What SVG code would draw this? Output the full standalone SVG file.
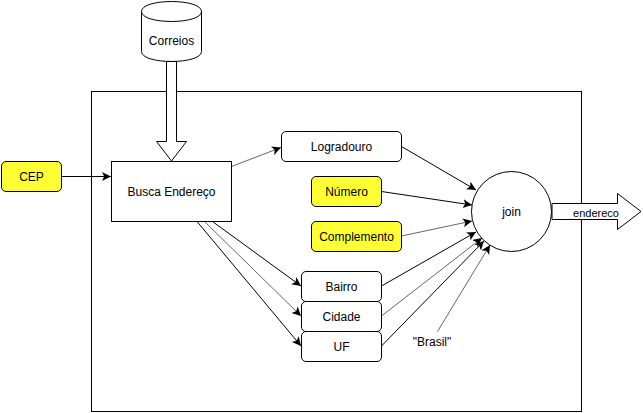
<svg xmlns="http://www.w3.org/2000/svg" width="643" height="413" viewBox="0 0 643 413">
<style>
.n{fill:#fff;stroke:#000;stroke-width:1}
.y{fill:#ffff33;stroke:#000;stroke-width:1}
.c{fill:none;stroke:#000;stroke-width:1}
.g{fill:none;stroke:#666;stroke-width:1}
text{font-family:"Liberation Sans",Arial,sans-serif;font-size:12px;fill:#000;text-anchor:middle}
</style>
<defs>
<marker id="a" markerUnits="userSpaceOnUse" markerWidth="12" markerHeight="10" refX="9" refY="4.5" orient="auto"><path d="M0 0L9 4.5L0 9L2.2 4.5Z" fill="#000"/></marker>
</defs>
<rect id="frame" x="91.5" y="91.5" width="490" height="320" fill="#fff" stroke="#000"/>
<g id="correios">
<path class="n" d="M141.500 11.500C141.500 -1.800 201.500 -1.800 201.500 11.500V51.500C201.500 64.800 141.500 64.800 141.500 51.500Z"/>
<path class="c" d="M141.500 11.500C141.500 24.800 201.500 24.800 201.500 11.500"/>
<text x="171.500" y="45">Correios</text>
</g>
<g id="connectors">
<path class="n" d="M166.500 61.500H176.500V141.500H186.500L171.500 161L156.500 141.500H166.500Z"/>
<path class="c" marker-end="url(#a)" d="M61.500 176.500H111"/>
<path class="g" marker-end="url(#a)" d="M231.500 166.500L281 147.500"/>
<path class="c" marker-end="url(#a)" d="M401.500 146.500L476 190"/>
<path class="c" marker-end="url(#a)" d="M381.500 191.500L472 205"/>
<path class="g" marker-end="url(#a)" d="M401.500 236L472 221"/>
<path class="c" marker-end="url(#a)" d="M212.500 221.500L301 286"/>
<path class="g" marker-end="url(#a)" d="M204.500 221.500L301 316"/>
<path class="c" marker-end="url(#a)" d="M197 221.500L301 346"/>
<path class="c" marker-end="url(#a)" d="M381.500 286L476 232"/>
<path class="g" marker-end="url(#a)" d="M381.500 316L482 238"/>
<path class="c" marker-end="url(#a)" d="M381.500 346L484 241"/>
<path class="g" marker-end="url(#a)" d="M437.500 331.500L490 245"/>
</g>
<g id="cep"><rect class="y" x="1.500" y="161.500" width="60" height="30" rx="4.500"/><text x="31.500" y="181">CEP</text></g>
<g id="busca"><rect class="n" x="111.500" y="161.500" width="120" height="60"/><text x="171.500" y="196">Busca Endereço</text></g>
<g id="logradouro"><rect class="n" x="281.500" y="131.500" width="120" height="30" rx="4.500"/><text x="341.500" y="151">Logradouro</text></g>
<g id="numero"><rect class="y" x="311.500" y="176.500" width="70" height="30" rx="4.500"/><text x="346.500" y="196">Número</text></g>
<g id="complemento"><rect class="y" x="311.500" y="221.500" width="90" height="30" rx="4.500"/><text x="356.500" y="241">Complemento</text></g>
<g id="bairro"><rect class="n" x="301.500" y="271.500" width="80" height="30" rx="4.500"/><text x="341.500" y="291">Bairro</text></g>
<g id="cidade"><rect class="n" x="301.500" y="301.500" width="80" height="30" rx="4.500"/><text x="341.500" y="321">Cidade</text></g>
<g id="uf"><rect class="n" x="301.500" y="331.500" width="80" height="30" rx="4.500"/><text x="341.500" y="351">UF</text></g>
<g id="brasil"><text x="432" y="346">"Brasil"</text></g>
<g id="join"><circle class="n" cx="511.500" cy="211.500" r="40"/><text x="511.500" y="216">join</text></g>
<g id="endereco"><path class="n" d="M552 203.500H617.500V193.500L641 211.500L617.500 229.500V219.500H552Z"/><text x="596" y="216.500" font-size="11" style="font-size:11px">endereco</text></g>
</svg>
